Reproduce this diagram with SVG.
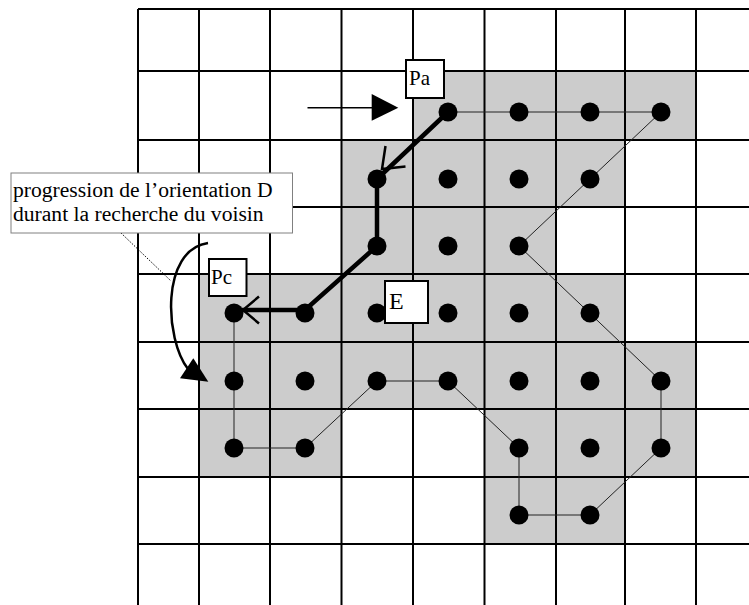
<svg xmlns="http://www.w3.org/2000/svg" width="749" height="605" viewBox="0 0 749 605">
<defs>
<style>
.cell{fill:#cccccc;stroke:none}
.grid{stroke:#000;stroke-width:2;fill:none}
.dot{fill:#000}
.thin{stroke:#222;stroke-width:1;fill:none}
.thick{stroke:#000;stroke-width:4.5;fill:none;stroke-linejoin:miter;stroke-linecap:butt}
.barb{stroke:#000;stroke-width:2.5;fill:none;stroke-linecap:butt}
.box{fill:#fff;stroke:#000;stroke-width:2}
.lbl{font-family:"Liberation Serif","Times New Roman",serif;fill:#000}
</style>
</defs>
<rect width="749" height="605" fill="#fff"/>
<g id="shaded-cells">
<rect class="cell" x="413" y="71" width="283" height="69"/>
<rect class="cell" x="341.5" y="140" width="283.5" height="67"/>
<rect class="cell" x="341.5" y="207" width="214.5" height="67"/>
<rect class="cell" x="199" y="274" width="426" height="68"/>
<rect class="cell" x="199" y="342" width="497" height="67"/>
<rect class="cell" x="199" y="409" width="142.5" height="68"/>
<rect class="cell" x="484.5" y="409" width="211.5" height="68"/>
<rect class="cell" x="484.5" y="477" width="140.5" height="67"/>
</g>
<g id="grid" class="grid">
<path d="M138,9V605M199,9V605M270,9V605M341.5,9V605M413,9V605M484.5,9V605M556,9V605M625,9V605M696,9V605"/>
<path d="M138,9H749M138,71H749M138,140H749M138,207H749M138,274H749M138,342H749M138,409H749M138,477H749M138,544H749"/>
</g>
<g id="connectors">
<path class="thin" d="M448,112 L661,112 L519,246 L661,381 L661,448 L590,515 L519,515 L519,448 L448,381 L377,381 L305,448 L234,448 L234,313"/>
</g>
<g id="pixels">
<circle class="dot" cx="448" cy="112" r="9.5"/><circle class="dot" cx="519" cy="112" r="9.5"/><circle class="dot" cx="590" cy="112" r="9.5"/><circle class="dot" cx="661" cy="112" r="9.5"/>
<circle class="dot" cx="377" cy="179" r="9.5"/><circle class="dot" cx="448" cy="179" r="9.5"/><circle class="dot" cx="519" cy="179" r="9.5"/><circle class="dot" cx="590" cy="179" r="9.5"/>
<circle class="dot" cx="377" cy="246" r="9.5"/><circle class="dot" cx="448" cy="246" r="9.5"/><circle class="dot" cx="519" cy="246" r="9.5"/>
<circle class="dot" cx="234" cy="313" r="9.5"/><circle class="dot" cx="305" cy="313" r="9.5"/><circle class="dot" cx="377" cy="313" r="9.5"/><circle class="dot" cx="448" cy="313" r="9.5"/><circle class="dot" cx="519" cy="313" r="9.5"/><circle class="dot" cx="590" cy="313" r="9.5"/>
<circle class="dot" cx="234" cy="381" r="9.5"/><circle class="dot" cx="305" cy="381" r="9.5"/><circle class="dot" cx="377" cy="381" r="9.5"/><circle class="dot" cx="448" cy="381" r="9.5"/><circle class="dot" cx="519" cy="381" r="9.5"/><circle class="dot" cx="590" cy="381" r="9.5"/><circle class="dot" cx="661" cy="381" r="9.5"/>
<circle class="dot" cx="234" cy="448" r="9.5"/><circle class="dot" cx="305" cy="448" r="9.5"/><circle class="dot" cx="519" cy="448" r="9.5"/><circle class="dot" cx="590" cy="448" r="9.5"/><circle class="dot" cx="661" cy="448" r="9.5"/>
<circle class="dot" cx="519" cy="515" r="9.5"/><circle class="dot" cx="590" cy="515" r="9.5"/>
</g>
<g id="trace">
<path class="thick" d="M448,112 L377,179 L377,246 L305,310 L236,310"/>
<path class="barb" d="M385.5,146 L382,169 L405.5,166.5"/>
<path class="barb" d="M259,296.5 L243,310 L259,323.5"/>
</g>
<g id="entry-arrow">
<path d="M307.5,107.7 H373" stroke="#000" stroke-width="1.6"/>
<polygon points="371.7,94 398.3,107.7 371.7,120.7" fill="#000"/>
</g>
<g id="rotation-arrow">
<path d="M121,233 L171,281" stroke="#000" stroke-width="1" stroke-dasharray="1.5,1.5" fill="none"/>
<path d="M208,243 C160,250 165,340 188,369" stroke="#000" stroke-width="2.5" fill="none"/>
<polygon points="180,378.3 193.3,358.3 208.3,381.7" fill="#000"/>
</g>
<g id="node-Pa">
<rect class="box" x="406" y="60" width="38" height="38"/>
<text class="lbl" x="409" y="84.5" font-size="21">Pa</text>
</g>
<g id="node-Pc">
<rect class="box" x="209" y="259" width="37.5" height="37"/>
<text class="lbl" x="211" y="284" font-size="21">Pc</text>
</g>
<g id="node-E">
<rect class="box" x="385" y="281" width="43" height="42"/>
<text class="lbl" x="389" y="308.5" font-size="24">E</text>
</g>
<g id="note">
<rect x="11" y="173" width="281.5" height="60" fill="#fff" stroke="#808080" stroke-width="1"/>
<text class="lbl" x="13" y="197" font-size="21.6">progression de l’orientation D</text>
<text class="lbl" x="13" y="221" font-size="21.6">durant la recherche du voisin</text>
</g>
</svg>
